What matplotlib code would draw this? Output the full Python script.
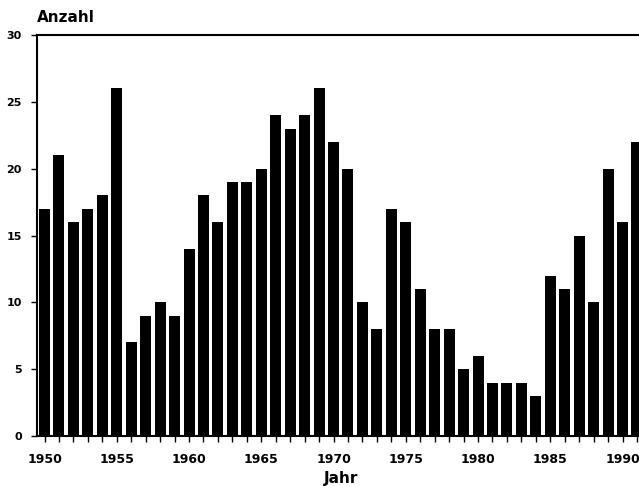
import numpy as np
import matplotlib
matplotlib.use("Agg")
import matplotlib.pyplot as plt

years = list(range(1950, 1992))
counts = [17, 21, 16, 17, 18, 26, 7, 9, 10, 9,
          14, 18, 16, 19, 19, 20, 24, 23, 24, 26,
          22, 20, 10, 8, 17, 16, 11, 8, 8, 5,
          6, 4, 4, 4, 3, 12, 11, 15, 10, 20,
          16, 22]
major_years = [1950, 1955, 1960, 1965, 1970, 1975, 1980, 1985, 1990]
y_ticks = [0, 5, 10, 15, 20, 25, 30]

fig = plt.figure(figsize=(6.39, 4.86), dpi=100)
ax = fig.add_axes([37 / 639, 50 / 486, 602 / 639, 401 / 486])

ax.bar(years, counts, width=0.76, color="black")

ax.set_xlim(1949.48, 1991.14)
ax.set_ylim(0, 30)

ax.set_xticks(major_years)
ax.set_xticks(years, minor=True)
ax.set_yticks(y_ticks)
ax.tick_params(axis="x", which="both", direction="out", length=4, width=1, pad=8,
               labelsize=9)
ax.tick_params(axis="y", direction="out", length=4, width=1, pad=7, labelsize=8)
for lab in ax.get_xticklabels() + ax.get_yticklabels():
    lab.set_fontweight("bold")

for side in ["left", "top", "bottom"]:
    ax.spines[side].set_linewidth(1.5)
ax.spines["right"].set_visible(False)

fig.text(37 / 639, 1 - 18 / 486, "Anzahl", fontsize=11, fontweight="bold",
         va="center", ha="left")
fig.text(341 / 639, 1 - 478 / 486, "Jahr", fontsize=11, fontweight="bold",
         va="center", ha="center")

fig.savefig("out.png", dpi=100)
